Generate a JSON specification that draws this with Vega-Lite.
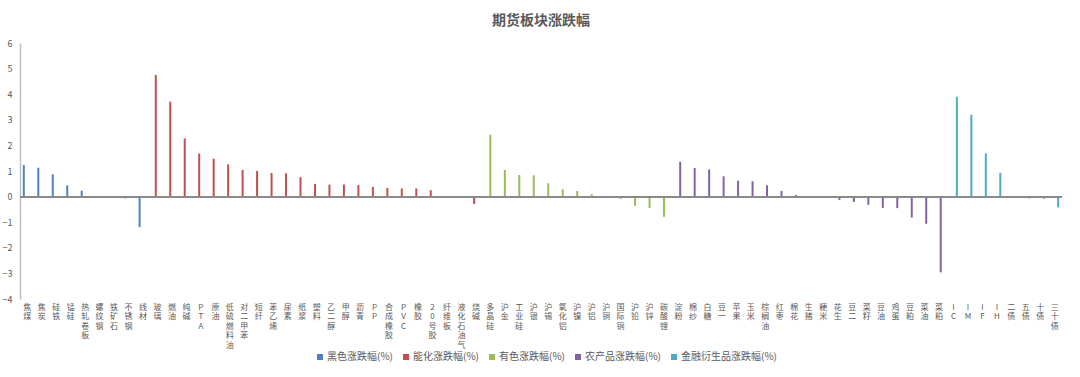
{
  "$schema": "https://vega.github.io/schema/vega-lite/v6.json",
  "autosize": "none",
  "width": 1042,
  "height": 256,
  "padding": {"left": 20, "top": 43, "right": 18, "bottom": 78},
  "background": "white",
  "title": {"text": "期货板块涨跌幅", "fontSize": 14, "fontWeight": "bold", "color": "#595959", "font": "Noto Sans CJK SC", "anchor": "middle", "frame": "group", "offset": 11},
  "config": {
    "view": {"stroke": null},
    "font": "Noto Sans CJK SC",
    "axisY": {"labelOverlap": false}
  },
  "data": {"values": [
    {"name": "焦煤", "group": "黑色涨跌幅(%)", "value": 1.23},
    {"name": "焦炭", "group": "黑色涨跌幅(%)", "value": 1.13},
    {"name": "硅铁", "group": "黑色涨跌幅(%)", "value": 0.87},
    {"name": "锰硅", "group": "黑色涨跌幅(%)", "value": 0.44},
    {"name": "热轧卷板", "group": "黑色涨跌幅(%)", "value": 0.23},
    {"name": "螺纹钢", "group": "黑色涨跌幅(%)", "value": 0.0},
    {"name": "铁矿石", "group": "黑色涨跌幅(%)", "value": 0.0},
    {"name": "不锈钢", "group": "黑色涨跌幅(%)", "value": -0.07},
    {"name": "线材", "group": "黑色涨跌幅(%)", "value": -1.19},
    {"name": "玻璃", "group": "能化涨跌幅(%)", "value": 4.75},
    {"name": "燃油", "group": "能化涨跌幅(%)", "value": 3.71},
    {"name": "纯碱", "group": "能化涨跌幅(%)", "value": 2.27},
    {"name": "PTA", "group": "能化涨跌幅(%)", "value": 1.68},
    {"name": "原油", "group": "能化涨跌幅(%)", "value": 1.48},
    {"name": "低硫燃料油", "group": "能化涨跌幅(%)", "value": 1.26},
    {"name": "对二甲苯", "group": "能化涨跌幅(%)", "value": 1.04},
    {"name": "短纤", "group": "能化涨跌幅(%)", "value": 1.0},
    {"name": "苯乙烯", "group": "能化涨跌幅(%)", "value": 0.92},
    {"name": "尿素", "group": "能化涨跌幅(%)", "value": 0.91},
    {"name": "纸浆", "group": "能化涨跌幅(%)", "value": 0.76},
    {"name": "塑料", "group": "能化涨跌幅(%)", "value": 0.49},
    {"name": "乙二醇", "group": "能化涨跌幅(%)", "value": 0.47},
    {"name": "甲醇", "group": "能化涨跌幅(%)", "value": 0.47},
    {"name": "沥青", "group": "能化涨跌幅(%)", "value": 0.45},
    {"name": "PP", "group": "能化涨跌幅(%)", "value": 0.38},
    {"name": "合成橡胶", "group": "能化涨跌幅(%)", "value": 0.34},
    {"name": "PVC", "group": "能化涨跌幅(%)", "value": 0.32},
    {"name": "橡胶", "group": "能化涨跌幅(%)", "value": 0.32},
    {"name": "20号胶", "group": "能化涨跌幅(%)", "value": 0.25},
    {"name": "纤维板", "group": "能化涨跌幅(%)", "value": -0.03},
    {"name": "液化石油气", "group": "能化涨跌幅(%)", "value": -0.05},
    {"name": "烧碱", "group": "能化涨跌幅(%)", "value": -0.29},
    {"name": "多晶硅", "group": "有色涨跌幅(%)", "value": 2.42},
    {"name": "沪金", "group": "有色涨跌幅(%)", "value": 1.04},
    {"name": "工业硅", "group": "有色涨跌幅(%)", "value": 0.84},
    {"name": "沪银", "group": "有色涨跌幅(%)", "value": 0.83},
    {"name": "沪锡", "group": "有色涨跌幅(%)", "value": 0.52},
    {"name": "氧化铝", "group": "有色涨跌幅(%)", "value": 0.29},
    {"name": "沪镍", "group": "有色涨跌幅(%)", "value": 0.22},
    {"name": "沪铝", "group": "有色涨跌幅(%)", "value": 0.09},
    {"name": "沪铜", "group": "有色涨跌幅(%)", "value": 0.0},
    {"name": "国际铜", "group": "有色涨跌幅(%)", "value": -0.09},
    {"name": "沪铅", "group": "有色涨跌幅(%)", "value": -0.36},
    {"name": "沪锌", "group": "有色涨跌幅(%)", "value": -0.44},
    {"name": "碳酸锂", "group": "有色涨跌幅(%)", "value": -0.79},
    {"name": "淀粉", "group": "农产品涨跌幅(%)", "value": 1.36},
    {"name": "棉纱", "group": "农产品涨跌幅(%)", "value": 1.12},
    {"name": "白糖", "group": "农产品涨跌幅(%)", "value": 1.06},
    {"name": "豆一", "group": "农产品涨跌幅(%)", "value": 0.79},
    {"name": "苹果", "group": "农产品涨跌幅(%)", "value": 0.62},
    {"name": "玉米", "group": "农产品涨跌幅(%)", "value": 0.6},
    {"name": "棕榈油", "group": "农产品涨跌幅(%)", "value": 0.44},
    {"name": "红枣", "group": "农产品涨跌幅(%)", "value": 0.22},
    {"name": "棉花", "group": "农产品涨跌幅(%)", "value": 0.06},
    {"name": "生猪", "group": "农产品涨跌幅(%)", "value": 0.0},
    {"name": "粳米", "group": "农产品涨跌幅(%)", "value": 0.0},
    {"name": "花生", "group": "农产品涨跌幅(%)", "value": -0.13},
    {"name": "豆二", "group": "农产品涨跌幅(%)", "value": -0.21},
    {"name": "菜籽", "group": "农产品涨跌幅(%)", "value": -0.32},
    {"name": "豆油", "group": "农产品涨跌幅(%)", "value": -0.44},
    {"name": "鸡蛋", "group": "农产品涨跌幅(%)", "value": -0.45},
    {"name": "豆粕", "group": "农产品涨跌幅(%)", "value": -0.82},
    {"name": "菜油", "group": "农产品涨跌幅(%)", "value": -1.06},
    {"name": "菜粕", "group": "农产品涨跌幅(%)", "value": -2.96},
    {"name": "IC", "group": "金融衍生品涨跌幅(%)", "value": 3.9},
    {"name": "IM", "group": "金融衍生品涨跌幅(%)", "value": 3.2},
    {"name": "IF", "group": "金融衍生品涨跌幅(%)", "value": 1.69},
    {"name": "IH", "group": "金融衍生品涨跌幅(%)", "value": 0.93},
    {"name": "二债", "group": "金融衍生品涨跌幅(%)", "value": -0.03},
    {"name": "五债", "group": "金融衍生品涨跌幅(%)", "value": -0.07},
    {"name": "十债", "group": "金融衍生品涨跌幅(%)", "value": -0.08},
    {"name": "三十债", "group": "金融衍生品涨跌幅(%)", "value": -0.42}
  ]},
  "layer": [
    {
      "mark": {"type": "bar", "width": 2},
      "encoding": {
        "x": {
          "field": "name", "type": "nominal", "sort": null,
          "scale": {"paddingInner": 0.41, "paddingOuter": 0.205},
          "axis": {
            "title": null, "domain": false, "ticks": false,
            "labelAngle": 0, "labelExpr": "split(datum.label, '')",
            "labelFontSize": 8, "labelLineHeight": 9.5, "labelColor": "#595959",
            "labelPadding": 4, "labelBaseline": "top", "labelAlign": "center", "labelOverlap": false
          }
        },
        "xOffset": {
          "field": "group", "type": "nominal",
          "scale": {"domain": ["黑色涨跌幅(%)", "能化涨跌幅(%)", "有色涨跌幅(%)", "农产品涨跌幅(%)", "金融衍生品涨跌幅(%)"], "paddingInner": 0, "paddingOuter": 0}
        },
        "y": {
          "field": "value", "type": "quantitative",
          "scale": {"domain": [-4, 6], "nice": false, "zero": false},
          "axis": {
            "title": null, "values": [-4, -3, -2, -1, 0, 1, 2, 3, 4, 5, 6], "tickCount": 20, "format": "d",
            "grid": false, "ticks": false, "domainColor": "#BFBFBF", "domainWidth": 1.5,
            "labelFontSize": 9, "labelColor": "#595959", "labelPadding": 8, "labelOverlap": false
          }
        },
        "color": {
          "field": "group", "type": "nominal",
          "scale": {
            "domain": ["黑色涨跌幅(%)", "能化涨跌幅(%)", "有色涨跌幅(%)", "农产品涨跌幅(%)", "金融衍生品涨跌幅(%)"],
            "range": ["#4F81BD", "#C0504D", "#9BBB59", "#8064A2", "#4BACC6"]
          },
          "legend": {
            "title": null, "orient": "none", "legendX": 295, "legendY": 309, "direction": "horizontal",
            "symbolType": "square", "symbolSize": 36, "symbolStrokeWidth": 0,
            "labelFontSize": 10, "labelColor": "#595959", "columnPadding": 8, "labelOffset": 2
          }
        }
      }
    },
    {
      "mark": {"type": "rule", "color": "#898989", "strokeWidth": 1},
      "encoding": {
        "y": {
          "datum": 0, "type": "quantitative",
          "axis": {
            "title": null, "values": [-4, -3, -2, -1, 0, 1, 2, 3, 4, 5, 6], "tickCount": 20, "format": "d",
            "grid": false, "ticks": false, "domainColor": "#BFBFBF", "domainWidth": 1.5,
            "labelFontSize": 9, "labelColor": "#595959", "labelPadding": 8, "labelOverlap": false
          }
        }
      }
    }
  ]
}
